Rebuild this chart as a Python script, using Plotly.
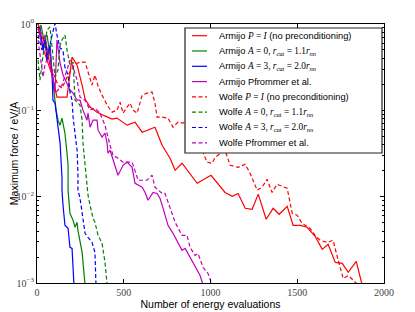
import plotly.graph_objects as go

# ---------------- data ----------------
armijo_pi_x = [6, 29, 58, 87, 115, 173, 202, 231, 260, 277, 306, 346, 381, 433, 461, 519, 565, 606, 680, 721,
               767, 796, 836, 923, 1003, 1084, 1125, 1159, 1200, 1240, 1275, 1321, 1361, 1396, 1442, 1476, 1517,
               1557, 1603, 1644, 1678, 1719, 1759, 1794, 1840, 1874]
armijo_pi_y = [1.0, 0.570, 0.382, 0.256, 0.142, 0.142, 0.414, 0.334, 0.196, 0.135, 0.109, 0.0953, 0.0879, 0.0791,
               0.0813, 0.0673, 0.0730, 0.0558, 0.0638, 0.0394, 0.0279, 0.0202, 0.0244, 0.0143, 0.0177, 0.0112,
               0.0101, 0.0109, 0.00733, 0.00714, 0.0107, 0.00547, 0.00733, 0.00625, 0.00774, 0.00466, 0.00466,
               0.00442, 0.00347, 0.00245, 0.00281, 0.00173, 0.00169, 0.00133, 0.00178, 0.00095]

armijo_a0_x = [6, 23, 40, 58, 75, 87, 98, 110, 121, 133, 144, 161, 173, 179, 179, 190, 208, 219, 231, 236, 260, 271, 277]
armijo_a0_y = [0.851, 0.973, 0.652, 0.745, 0.437, 0.256, 0.150, 0.1005, 0.0769, 0.0673, 0.0813, 0.0543, 0.0319,
               0.0231, 0.0119, 0.00642, 0.00532, 0.00442, 0.00505, 0.00407, 0.00226, 0.00129, 0.00095]

armijo_a3_x = [6, 17, 35, 46, 58, 75, 87, 92, 104, 121, 133, 144, 144, 150, 161, 179, 190, 202, 213]
armijo_a3_y = [0.851, 0.923, 0.499, 0.652, 0.382, 0.570, 0.256, 0.131, 0.121, 0.0673, 0.0417, 0.0168, 0.0119,
               0.00794, 0.00466, 0.00430, 0.00259, 0.00252, 0.00095]

armijo_pf_x = [6, 29, 46, 63, 87, 104, 115, 133, 150, 173, 190, 208, 231, 248, 265, 288, 294, 306, 323, 346,
               352, 375, 392, 404, 409, 421, 438, 467, 496, 519, 548, 565, 606, 623, 640, 669, 692, 709, 727, 755,
               784, 807, 836, 854, 882, 900, 923, 940, 957]
armijo_pf_y = [0.899, 0.570, 0.745, 0.437, 0.256, 0.172, 0.652, 0.353, 0.256, 0.207, 0.172, 0.158, 0.131, 0.131,
               0.1005, 0.0769, 0.0928, 0.0638, 0.0769, 0.0769, 0.0589, 0.0489, 0.0543, 0.0417, 0.0319, 0.0345,
               0.0264, 0.0177, 0.0231, 0.0251, 0.0219, 0.0143, 0.0129, 0.0112, 0.00908, 0.0112, 0.0109, 0.00958,
               0.00733, 0.00466, 0.00376, 0.00312, 0.00239, 0.00252, 0.00198, 0.00169, 0.00140, 0.00122, 0.00095]

wolfe_pi_x = [6, 46, 87, 121, 144, 179, 219, 248, 277, 294, 317, 334, 352, 375, 404, 433, 461, 479, 496, 519,
              536, 554, 577, 606, 634, 663, 680, 692, 721, 755, 784, 813, 842, 882, 928, 980, 1009, 1027, 1084,
              1113, 1159, 1200, 1228, 1269, 1298, 1326, 1355, 1384, 1442, 1471, 1499, 1528, 1574, 1603, 1632,
              1672, 1707, 1736, 1765, 1794, 1851]
wolfe_pi_y = [1.0, 0.570, 0.293, 0.196, 0.181, 0.256, 0.344, 0.362, 0.362, 0.278, 0.196, 0.256, 0.191, 0.150,
              0.115, 0.0953, 0.1005, 0.124, 0.0928, 0.109, 0.121, 0.1005, 0.0928, 0.150, 0.158, 0.163, 0.121,
              0.0834, 0.0834, 0.0813, 0.0638, 0.0730, 0.0711, 0.0813, 0.0451, 0.0251, 0.0244, 0.0286, 0.0345,
              0.0231, 0.0219, 0.0238, 0.0187, 0.0119, 0.0129, 0.0159, 0.0112, 0.0139, 0.0125, 0.00642, 0.00608,
              0.00491, 0.00430, 0.00356, 0.00312, 0.00296, 0.00312, 0.00183, 0.00113, 0.00122, 0.00095]

wolfe_a0_x = [6, 17, 35, 58, 75, 87, 104, 121, 133, 144, 161, 173, 190, 208, 219, 248, 260, 265, 277, 288,
              294, 306, 323, 334, 352, 375, 392, 404]
wolfe_a0_y = [0.382, 0.224, 0.437, 0.851, 0.923, 0.570, 0.243, 0.293, 0.570, 0.652, 0.745, 0.499, 0.334, 0.362,
              0.131, 0.115, 0.0769, 0.0417, 0.0219, 0.0119, 0.0104, 0.00794, 0.00561, 0.00505, 0.00356, 0.00288,
              0.00173, 0.00095]

wolfe_a3_x = [6, 29, 46, 63, 87, 104, 115, 133, 150, 161, 179, 190, 202, 208, 219, 231, 236, 236, 248, 260,
              277, 294, 317, 334, 340]
wolfe_a3_y = [0.745, 0.499, 0.652, 0.437, 0.745, 1.02, 0.745, 0.527, 0.499, 0.317, 0.256, 0.163, 0.131, 0.0834,
              0.0543, 0.0345, 0.0187, 0.0119, 0.00958, 0.00608, 0.00376, 0.00338, 0.00296, 0.00226, 0.00095]

wolfe_pf_x = [6, 23, 35, 46, 75, 87, 104, 121, 144, 173, 190, 208, 231, 248, 277, 306, 334, 363, 392, 421,
              438, 467, 496, 548, 583, 634, 663, 680, 721, 738, 767, 796, 836, 865, 882, 911, 928, 957, 986, 1009]
wolfe_pf_y = [0.652, 0.382, 0.243, 0.334, 0.499, 0.293, 0.158, 0.172, 0.196, 0.293, 0.382, 0.317, 0.224, 0.142,
              0.131, 0.1005, 0.106, 0.0928, 0.0673, 0.0394, 0.0302, 0.0279, 0.0251, 0.0251, 0.0155, 0.0155,
              0.0177, 0.0129, 0.0109, 0.0109, 0.00733, 0.00505, 0.00356, 0.00356, 0.00259, 0.00209, 0.00220,
              0.00152, 0.00129, 0.00095]

x_ticks = [0, 500, 1000, 1500, 2000]
y_ticks = [1e-3, 1e-2, 1e-1, 1]
y_tick_text = ["10<sup>−3</sup>", "10<sup>−2</sup>", "10<sup>−1</sup>", "10<sup>0</sup>"]

M = "<span style='font-family:Liberation Serif'>"
E = "</span>"
names = [
    f"Armijo {M}<i>P</i> = <i>I</i>{E} (no preconditioning)",
    f"Armijo {M}<i>A</i> = 0, <i>r</i><sub>cut</sub> = 1.1<i>r</i><sub><i>nn</i></sub>{E}",
    f"Armijo {M}<i>A</i> = 3, <i>r</i><sub>cut</sub> = 2.0<i>r</i><sub><i>nn</i></sub>{E}",
    "Armijo Pfrommer et al.",
    f"Wolfe {M}<i>P</i> = <i>I</i>{E} (no preconditioning)",
    f"Wolfe {M}<i>A</i> = 0, <i>r</i><sub>cut</sub> = 1.1<i>r</i><sub><i>nn</i></sub>{E}",
    f"Wolfe {M}<i>A</i> = 3, <i>r</i><sub>cut</sub> = 2.0<i>r</i><sub><i>nn</i></sub>{E}",
    "Wolfe Pfrommer et al.",
]
series_x = [armijo_pi_x, armijo_a0_x, armijo_a3_x, armijo_pf_x, wolfe_pi_x, wolfe_a0_x, wolfe_a3_x, wolfe_pf_x]
series_y = [armijo_pi_y, armijo_a0_y, armijo_a3_y, armijo_pf_y, wolfe_pi_y, wolfe_a0_y, wolfe_a3_y, wolfe_pf_y]
colors = ["#ff0000", "#008000", "#0000ff", "#bf00bf"] * 2
DASH = "4px,2.5px"
dashes = ["solid"] * 4 + [DASH] * 4

# ---------------- figure ----------------
# the page body has an 8px margin, so the figure is laid out 8px smaller and shifted
OFF = 8
W, H = 415 - OFF, 312 - OFF
L, R, T, B = 37 - OFF, 31, 24 - OFF, 29

fig = go.Figure()
for xs, ys, nm, c, d in zip(series_x, series_y, names, colors, dashes):
    fig.add_trace(go.Scatter(x=xs, y=ys, mode="lines", name=nm, showlegend=False,
                             line=dict(color=c, width=1.2, dash=d)))

pw, ph = W - L - R, H - T - B


def px_x(p):  # screen pixel -> paper x
    return (p - OFF - L) / pw


def px_y(p):  # screen pixel -> paper y
    return (H - B - (p - OFF)) / ph


# manual legend box (matplotlib-like spacing)
shapes = [dict(type="rect", xref="paper", yref="paper", x0=px_x(185), x1=px_x(382), y0=px_y(153), y1=px_y(28),
               line=dict(color="#222222", width=1.2), fillcolor="white", layer="above")]
annotations = []
for i, (nm, c, d) in enumerate(zip(names, colors, dashes)):
    yy = 35.7 + i * 15.3
    shapes.append(dict(type="line", xref="paper", yref="paper", x0=px_x(192), x1=px_x(207),
                       y0=px_y(yy), y1=px_y(yy), line=dict(color=c, width=1.2, dash=d), layer="above"))
    annotations.append(dict(xref="paper", yref="paper", x=px_x(217), y=px_y(yy), text=nm, showarrow=False,
                            xanchor="left", yanchor="middle",
                            font=dict(family="Liberation Sans", size=9.3, color="black")))

fig.update_layout(
    width=W, height=H, autosize=False,
    margin=dict(l=L, r=R, t=T, b=B, autoexpand=False),
    paper_bgcolor="white", plot_bgcolor="white",
    showlegend=False,
    shapes=shapes, annotations=annotations,
    xaxis=dict(range=[0, 2000], tickmode="array", tickvals=x_ticks, ticktext=[str(v) for v in x_ticks],
               automargin=False,
               ticks="inside", ticklen=4, tickwidth=1, tickcolor="black", mirror="allticks",
               showline=True, linecolor="black", linewidth=1, showgrid=False, zeroline=False,
               tickfont=dict(family="Liberation Serif", size=10, color="#444444"),
               title=dict(text="Number of energy evaluations", standoff=2,
                          font=dict(family="Liberation Sans", size=10.5, color="black"))),
    yaxis=dict(type="log", range=[-3, 0], tickmode="array", tickvals=y_ticks, ticktext=y_tick_text,
               automargin=False,
               ticks="inside", ticklen=4, tickwidth=1, tickcolor="black", mirror="allticks",
               showline=True, linecolor="black", linewidth=1, showgrid=False, zeroline=False,
               minor=dict(ticks="inside", ticklen=2, tickcolor="black", tickmode="array",
                          tickvals=[m * 10 ** e for e in (-3, -2, -1) for m in range(2, 10)], showgrid=False),
               tickfont=dict(family="Liberation Serif", size=10, color="#444444"),
               title=dict(text="Maximum force / eV/A", standoff=4,
                          font=dict(family="Liberation Sans", size=10.5, color="black"))),
)

fig.write_html("out.html")
